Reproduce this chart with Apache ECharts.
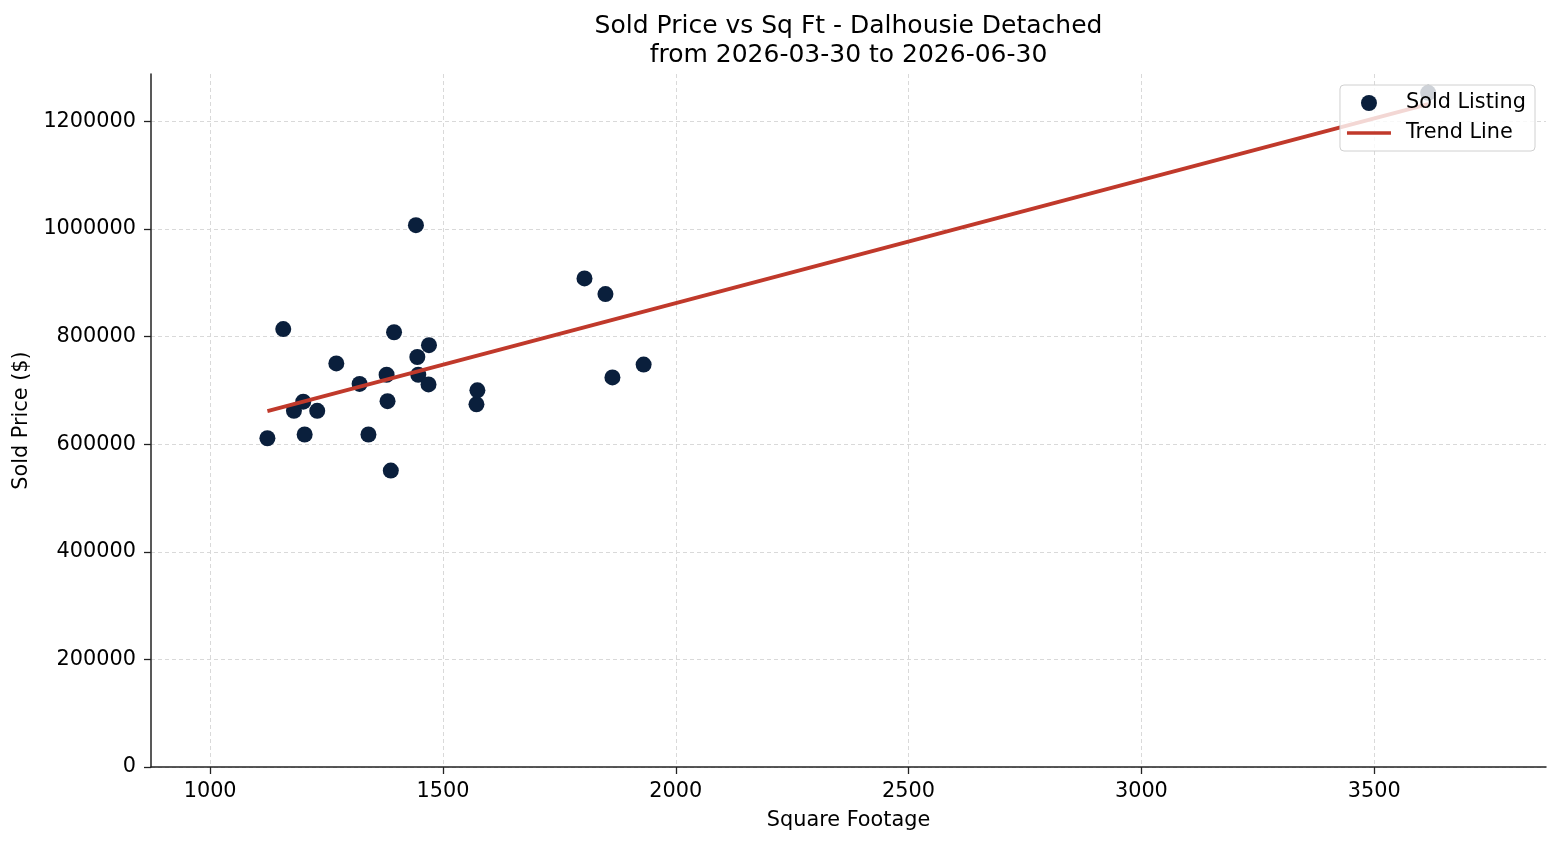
<!DOCTYPE html>
<html>
<head>
<meta charset="utf-8">
<script src="https://cdn.jsdelivr.net/npm/echarts@6/dist/echarts.min.js"></script>
<style>
  html, body { margin: 0; padding: 0; background: #fff; }
  #chart { width: 1560px; height: 845px; }
</style>
</head>
<body>
<div id="chart"></div>
<script>
var FONT = "'DejaVu Sans', sans-serif";
var FS = 20.8;

// sold listings
var sqft = [1123, 1157, 1180, 1200, 1203, 1230, 1271, 1321, 1340, 1379, 1381, 1388, 1395,
            1442, 1445, 1447, 1469, 1470, 1572, 1574, 1804, 1849, 1864, 1931, 3616];
var price = [611000, 814000, 662000, 679000, 618000, 662000, 750000, 712000, 618000, 729000, 680000, 551000, 808000,
             1007000, 762000, 729000, 711000, 784000, 674000, 700000, 908000, 879000, 724000, 748000, 1253000];

// trend line end points
var trendX = [1123, 3616];
var trendY = [661500, 1232000];

var xTicks = [1000, 1500, 2000, 2500, 3000, 3500];
var yTicks = [0, 200000, 400000, 600000, 800000, 1000000, 1200000];

var titleText = 'Sold Price vs Sq Ft - Dalhousie Detached\nfrom 2026-03-30 to 2026-06-30';

var points = sqft.map(function (x, i) { return [x, price[i]]; });
var trend = trendX.map(function (x, i) { return [x, trendY[i]]; });

var gridLine = { show: true, lineStyle: { color: '#d9d9d9', width: 1, type: [4, 3] } };
var axisLine = { show: true, lineStyle: { color: '#222', width: 1.5 } };
var plain = function (v) { return String(v); };

var chart = echarts.init(document.getElementById('chart'));
var option = {
    animation: false,
    backgroundColor: '#fff',
    textStyle: { fontFamily: FONT },
    // title centred over the plot area, not the canvas
    graphic: [{
        type: 'text',
        x: 848.5,
        y: 12,
        style: {
            text: titleText,
            font: '25px ' + FONT,
            fill: '#000',
            textAlign: 'center',
            textVerticalAlign: 'top',
            lineHeight: 29
        }
    }],
    legend: {
        orient: 'vertical',
        right: 25,
        top: 85,
        padding: [6, 9, 6, 7],
        itemGap: 6,
        itemWidth: 44,
        itemHeight: 16,
        backgroundColor: 'rgba(255,255,255,0.8)',
        borderColor: '#d0d0d0',
        borderWidth: 1,
        borderRadius: 4,
        textStyle: { fontFamily: FONT, fontSize: FS, color: '#000', lineHeight: 24, padding: [0, 0, 0, 10] },
        data: [
            { name: 'Sold Listing', icon: 'circle' },
            { name: 'Trend Line', icon: 'path://M0,0L44,0L44,3.5L0,3.5Z' }
        ]
    },
    grid: { left: 151, right: 14, top: 74, bottom: 78, containLabel: false, outerBoundsMode: 'none' },
    xAxis: {
        type: 'value',
        min: 873,
        max: 3869,
        name: 'Square Footage',
        nameLocation: 'middle',
        nameGap: 43,
        nameTextStyle: { fontFamily: FONT, fontSize: FS, color: '#000' },
        axisLine: axisLine,
        axisTick: { show: true, length: 7, customValues: xTicks, lineStyle: { color: '#222', width: 1.3 } },
        axisLabel: { customValues: xTicks, formatter: plain, fontFamily: FONT, fontSize: FS, color: '#000', margin: 14 },
        splitLine: gridLine
    },
    yAxis: {
        type: 'value',
        min: 0,
        max: 1288000,
        name: 'Sold Price ($)',
        nameLocation: 'middle',
        nameGap: 106,
        nameTextStyle: { fontFamily: FONT, fontSize: FS, color: '#000' },
        axisLine: axisLine,
        axisTick: { show: true, length: 7, customValues: yTicks, lineStyle: { color: '#222', width: 1.3 } },
        axisLabel: { customValues: yTicks, formatter: plain, fontFamily: FONT, fontSize: FS, color: '#000', margin: 15 },
        splitLine: gridLine
    },
    series: [
        {
            name: 'Sold Listing',
            type: 'scatter',
            z: 2,
            symbol: 'circle',
            symbolSize: 16,
            itemStyle: { color: '#0a1f3c', opacity: 1 },
            data: points
        },
        {
            name: 'Trend Line',
            type: 'line',
            z: 3,
            symbol: 'none',
            lineStyle: { color: '#c0392b', width: 3.8 },
            itemStyle: { color: '#c0392b' },
            data: trend
        }
    ]
};
chart.setOption(option);
</script>
</body>
</html>
